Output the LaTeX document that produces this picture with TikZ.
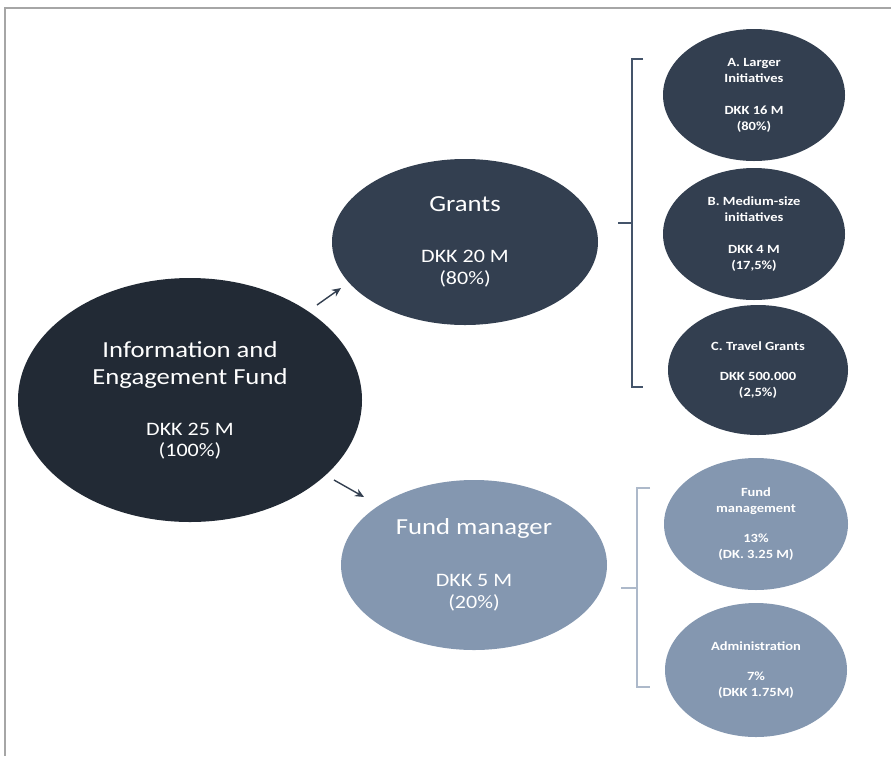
\documentclass[tikz,border=0pt]{standalone}
\usepackage{fontspec}
\setmainfont{Carlito}[FakeStretch=1.16]
\usetikzlibrary{shapes.geometric,arrows.meta}
\definecolor{funddark}{RGB}{34,42,53}
\definecolor{grantblue}{RGB}{51,63,80}
\definecolor{mgrblue}{RGB}{132,151,176}
\definecolor{bracedark}{RGB}{68,84,106}
\definecolor{bracelight}{RGB}{173,185,202}

\tikzstyle{fund} = [ellipse,inner sep=0pt,align=center,text=white]
\tikzstyle{topfund} = [fund,fill=funddark,minimum width=344pt,minimum height=244pt,font=\fontsize{19}{27}\selectfont]
\tikzstyle{branch} = [fund,minimum width=266pt,minimum height=166pt,font=\fontsize{19}{22}\selectfont]
\tikzstyle{part} = [fund,minimum width=182pt,minimum height=132pt,font=\bfseries\fontsize{12.5}{16}\selectfont]
\tikzstyle{flow} = [-{Stealth[length=9pt,width=8pt]},line width=1.4pt,draw=grantblue]
\newcommand{\bigline}[1]{{\fontsize{23}{27}\selectfont #1}}

\begin{document}
\begin{tikzpicture}[x=1pt,y=-1pt]
	\useasboundingbox (0,0) rectangle (891,756);
	\draw [gray!70,line width=1.6pt] (891,8) -- (5,8) -- (5,756);
	\node (ief) [topfund] at (190,400) {\bigline{Information and}\\\bigline{Engagement Fund}\\[24pt]DKK 25 M\\[-6pt](100\%)};
	\node (grants) [branch,fill=grantblue] at (465,242) {\bigline{Grants}\\[29pt]DKK 20 M\\(80\%)};
	\node (mgr) [branch,fill=mgrblue,minimum height=170pt] at (474,565) {\bigline{Fund manager}\\[30pt]DKK 5 M\\(20\%)};
	\node (larger) [part,fill=grantblue] at (754,95) {A. Larger\\Initiatives\\[16pt]DKK 16 M\\(80\%)};
	\node (medium) [part,fill=grantblue] at (754,234) {B. Medium-size\\initiatives\\[16pt]DKK 4 M\\(17,5\%)};
	\node (travel) [part,fill=grantblue,minimum width=180pt,minimum height=130pt] at (758,370) {C. Travel Grants\\[14pt]DKK 500.000\\(2,5\%)};
	\node (mgmt) [part,fill=mgrblue,minimum width=184pt] at (756,524) {Fund\\management\\[14pt]13\%\\(DK. 3.25 M)};
	\node (admin) [part,fill=mgrblue,minimum height=134pt] at (756,670) {Administration\\[14pt]7\%\\(DKK 1.75M)};
	\coordinate (up0) at (317,305);
	\coordinate (up1) at (341,288);
	\coordinate (dn0) at (334,480);
	\coordinate (dn1) at (364,497);
	\draw [flow] (up0) -- (up1);
	\draw [flow] (dn0) -- (dn1);
	\draw [bracedark,line width=1.3pt] (643,59) -- (632,59) -- (632,387) -- (643,387);
	\draw [bracedark,line width=1.3pt] (632,223) -- (618,223);
	\draw [bracelight,line width=1.3pt] (650,488) -- (637,488) -- (637,687) -- (650,687);
	\draw [bracelight,line width=1.3pt] (637,588) -- (621,588);
\end{tikzpicture}
\end{document}
